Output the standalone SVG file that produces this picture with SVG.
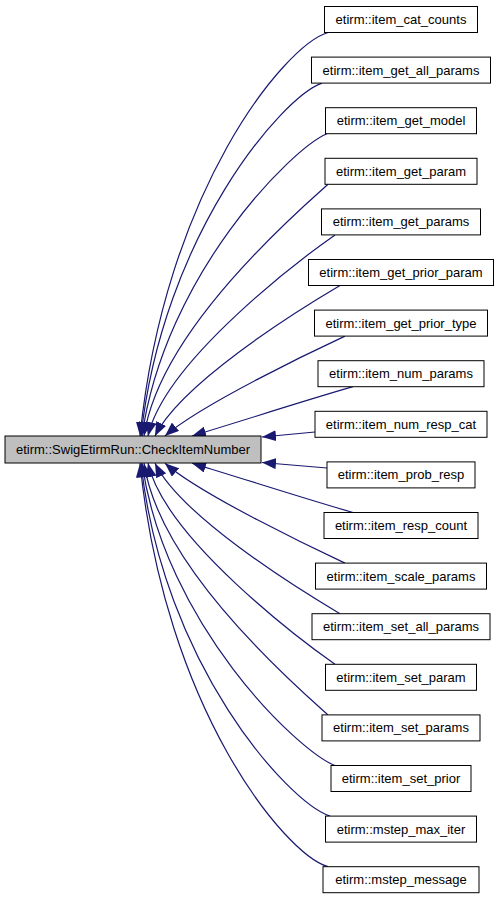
<svg xmlns="http://www.w3.org/2000/svg" width="499" height="899" viewBox="0 0 499 899">
<style>
.n rect{fill:#fff;stroke:#000;stroke-width:1}
.m rect{fill:#bfbfbf;stroke:#000;stroke-width:1}
text{font-family:"Liberation Sans",Arial,sans-serif;font-size:13px;fill:#000;text-anchor:middle}
.e path{fill:none;stroke:#191970;stroke-width:1.2;marker-end:url(#ah)}
</style>
<defs>
<marker id="ah" markerUnits="userSpaceOnUse" viewBox="0 0 14 11" markerWidth="14" markerHeight="11" refX="14" refY="5.5" orient="auto">
<path d="M0,0 L14,5.5 L0,11 z" fill="#191970"/>
</marker>
</defs>
<rect width="499" height="899" fill="#fff"/>
<g class="e" id="edges">
<path d="M328,32.5 C285,45 165,190 140,436"/>
<path d="M322,83.1 C282,97 163,235 141,436"/>
<path d="M327,133.7 C292,148 165,275 142,436"/>
<path d="M328,184.3 C297,212 160,330 144,436"/>
<path d="M335,234.9 C305,256 165,360 148,436"/>
<path d="M340,285.5 C290,315 180,385 155,436"/>
<path d="M345,336.1 C315,350 200,405 165,436"/>
<path d="M353,386.7 C300,402 245,420 192,436"/>
<path d="M315,432 L262,437"/>
<path d="M327,468 L262,462.5"/>
<path d="M353,512.5 C300,497.2 245,479.2 192,463.2"/>
<path d="M345,563.1 C315,549.2 200,494.2 165,463.2"/>
<path d="M340,613.7 C290,584.2 180,514.2 155,463.2"/>
<path d="M335,664.3 C305,643.2 165,539.2 148,463.2"/>
<path d="M328,714.9 C297,687.2 160,569.2 144,463.2"/>
<path d="M335,765.5 C298,751.2 165,624.2 142,463.2"/>
<path d="M330,816.1 C288,802.2 163,664.2 141,463.2"/>
<path d="M328,866.7 C285,854.2 165,709.2 140,463.2"/>
</g>
<g class="m" id="main"><rect x="5" y="436" width="256" height="27"/><text x="133" y="454">etirm::SwigEtirmRun::CheckItemNumber</text></g>
<g class="n" id="n0"><rect x="324.5" y="6.5" width="153" height="26"/><text x="401" y="24">etirm::item_cat_counts</text></g>
<g class="n" id="n1"><rect x="311.5" y="57.1" width="179" height="26"/><text x="401" y="74.6">etirm::item_get_all_params</text></g>
<g class="n" id="n2"><rect x="325.5" y="107.7" width="151" height="26"/><text x="401" y="125.2">etirm::item_get_model</text></g>
<g class="n" id="n3"><rect x="325" y="158.3" width="152" height="26"/><text x="401" y="175.8">etirm::item_get_param</text></g>
<g class="n" id="n4"><rect x="321.5" y="208.9" width="159" height="26"/><text x="401" y="226.4">etirm::item_get_params</text></g>
<g class="n" id="n5"><rect x="308.5" y="259.5" width="185" height="26"/><text x="401" y="277">etirm::item_get_prior_param</text></g>
<g class="n" id="n6"><rect x="314.5" y="310.1" width="173" height="26"/><text x="401" y="327.6">etirm::item_get_prior_type</text></g>
<g class="n" id="n7"><rect x="318" y="360.7" width="166" height="26"/><text x="401" y="378.2">etirm::item_num_params</text></g>
<g class="n" id="n8"><rect x="315" y="411.3" width="172" height="26"/><text x="401" y="428.8">etirm::item_num_resp_cat</text></g>
<g class="n" id="n9"><rect x="327" y="461.9" width="148" height="26"/><text x="401" y="479.4">etirm::item_prob_resp</text></g>
<g class="n" id="n10"><rect x="324" y="512.5" width="154" height="26"/><text x="401" y="530">etirm::item_resp_count</text></g>
<g class="n" id="n11"><rect x="315.5" y="563.1" width="171" height="26"/><text x="401" y="580.6">etirm::item_scale_params</text></g>
<g class="n" id="n12"><rect x="312" y="613.7" width="178" height="26"/><text x="401" y="631.2">etirm::item_set_all_params</text></g>
<g class="n" id="n13"><rect x="325.5" y="664.3" width="151" height="26"/><text x="401" y="681.8">etirm::item_set_param</text></g>
<g class="n" id="n14"><rect x="322" y="714.9" width="158" height="26"/><text x="401" y="732.4">etirm::item_set_params</text></g>
<g class="n" id="n15"><rect x="331" y="765.5" width="140" height="26"/><text x="401" y="783">etirm::item_set_prior</text></g>
<g class="n" id="n16"><rect x="325.5" y="816.1" width="151" height="26"/><text x="401" y="833.6">etirm::mstep_max_iter</text></g>
<g class="n" id="n17"><rect x="323" y="866.7" width="156" height="26"/><text x="401" y="884.2">etirm::mstep_message</text></g>
</svg>
